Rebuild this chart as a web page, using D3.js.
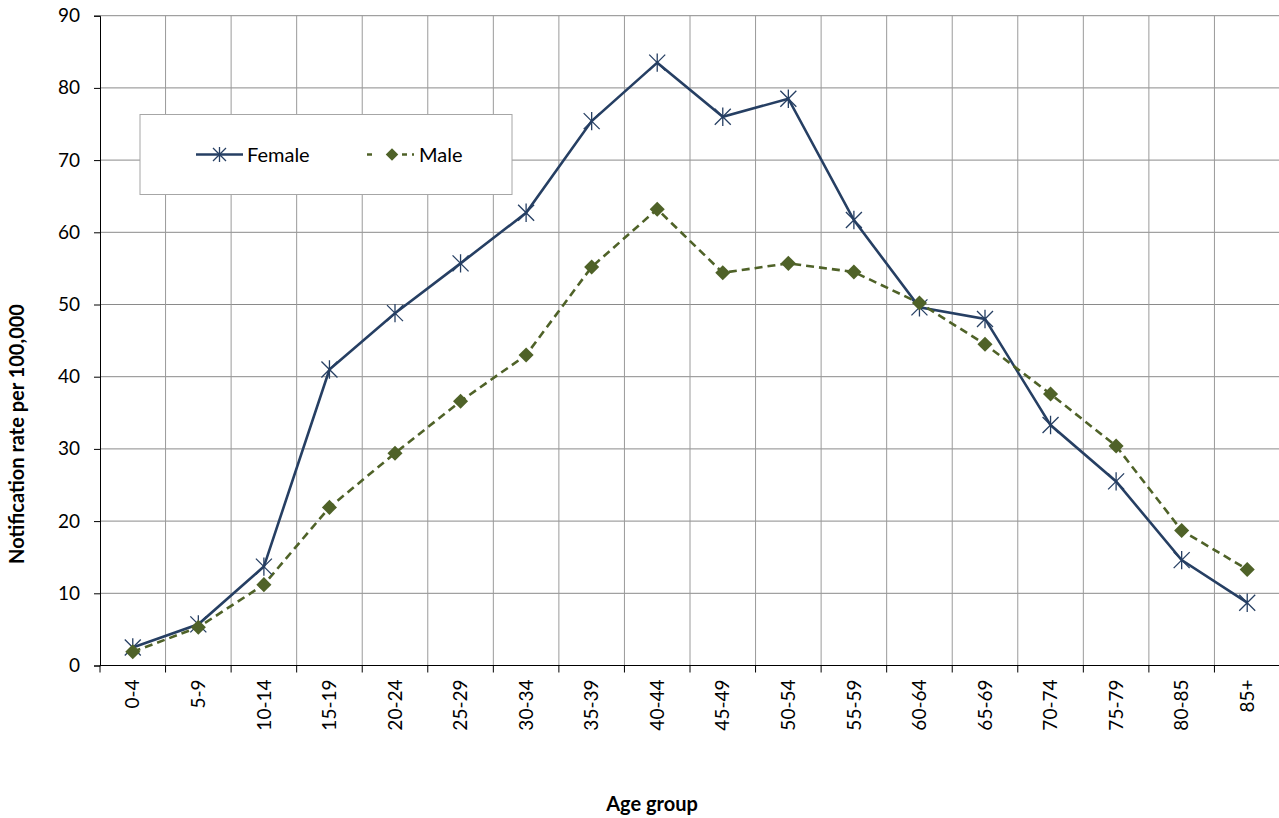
<!DOCTYPE html>
<html>
<head>
<meta charset="utf-8">
<script src="https://cdn.jsdelivr.net/npm/d3@7"></script>
<style>
  body { margin: 0; background: #fff; }
  text { font-family: Lato, "Open Sans", sans-serif; fill: #000; }
</style>
</head>
<body>
<div id="holder"></div>
<script>
// data
var ageGroups = ["0-4", "5-9", "10-14", "15-19", "20-24", "25-29", "30-34", "35-39", "40-44",
                 "45-49", "50-54", "55-59", "60-64", "65-69", "70-74", "75-79", "80-85", "85+"];
var female = [2.5, 5.7, 13.7, 41.0, 48.8, 55.7, 62.7, 75.4, 83.5, 76.0, 78.5, 61.7, 49.6, 48.0, 33.3, 25.5, 14.6, 8.7];
var male = [1.9, 5.3, 11.2, 21.9, 29.4, 36.6, 43.0, 55.2, 63.2, 54.4, 55.7, 54.5, 50.2, 44.5, 37.6, 30.4, 18.7, 13.3];
var yTicks = [0, 10, 20, 30, 40, 50, 60, 70, 80, 90];

var femaleColor = "#263f63",
    maleColor = "#4f6228";

// svg size and plot box
var width = 1279, height = 818;
var plot = {left: 100, right: 1280, top: 15.7, bottom: 665.5};

var svg = d3.select("#holder")
            .append("svg")
            .attr("width", width)
            .attr("height", height);

var x = d3.scaleBand()
          .domain(ageGroups)
          .range([plot.left, plot.right]);

var y = d3.scaleLinear()
          .domain([0, 90])
          .range([plot.bottom, plot.top]);

// gridlines
var grid = svg.append("g");
grid.selectAll(".hgrid")
    .data(yTicks.slice(1))
    .enter()
    .append("line")
    .attr("x1", plot.left).attr("x2", plot.right)
    .attr("y1", d => y(d)).attr("y2", d => y(d))
    .attr("stroke", "#8a8a8a")
    .attr("stroke-width", 1);

grid.selectAll(".vgrid")
    .data(ageGroups.slice(1).concat(["end"]))
    .enter()
    .append("line")
    .attr("x1", (d, i) => plot.left + x.step() * (i + 1))
    .attr("x2", (d, i) => plot.left + x.step() * (i + 1))
    .attr("y1", plot.top).attr("y2", plot.bottom)
    .attr("stroke", "#9a9a9a")
    .attr("stroke-width", 1);

// y axis
var yAxis = svg.append("g")
    .attr("transform", "translate(" + plot.left + ",0)")
    .call(d3.axisLeft(y).tickValues(yTicks).tickSize(6).tickPadding(14));
yAxis.select(".domain").attr("stroke", "#000");
yAxis.selectAll(".tick line").attr("stroke", "#000");
yAxis.selectAll("text").attr("font-size", 19).attr("font-family", "Lato, sans-serif");

// x axis, ticks sit on band boundaries
var xAxis = svg.append("g")
    .attr("transform", "translate(0," + plot.bottom + ")")
    .call(d3.axisBottom(x).tickSize(0).tickPadding(0));
xAxis.select(".domain").attr("stroke", "#000").attr("d", "M" + plot.left + ",0H" + plot.right);
xAxis.selectAll("text")
     .attr("font-size", 19)
     .attr("font-family", "Lato, sans-serif")
     .attr("transform", "rotate(-90)")
     .attr("text-anchor", "end")
     .attr("dy", "0.35em")
     .attr("x", -14)
     .attr("y", 0);
svg.append("g").selectAll("line")
   .data(d3.range(ageGroups.length + 1))
   .enter()
   .append("line")
   .attr("x1", i => plot.left + x.step() * i)
   .attr("x2", i => plot.left + x.step() * i)
   .attr("y1", plot.bottom).attr("y2", plot.bottom + 7)
   .attr("stroke", "#000");

// axis titles
svg.append("text")
   .attr("transform", "translate(17,434) rotate(-90)")
   .attr("text-anchor", "middle")
   .attr("dy", "0.35em")
   .attr("font-size", 20)
   .attr("font-weight", "bold")
   .text("Notification rate per 100,000");

svg.append("text")
   .attr("x", 652)
   .attr("y", 811)
   .attr("text-anchor", "middle")
   .attr("font-size", 20)
   .attr("font-weight", "bold")
   .text("Age group");

var cx = d => x(d) + x.bandwidth() / 2;

// lines
var seriesLine = d3.line().x((d, i) => cx(ageGroups[i])).y(d => y(d));
svg.append("path")
   .datum(female)
   .attr("d", seriesLine)
   .attr("fill", "none")
   .attr("stroke", femaleColor)
   .attr("stroke-width", 2.6);

svg.append("path")
   .datum(male)
   .attr("d", seriesLine)
   .attr("fill", "none")
   .attr("stroke", maleColor)
   .attr("stroke-width", 2.6)
   .attr("stroke-dasharray", "8,5");

// markers
function starPath(s) {
  return "M" + (-s) + "," + (-s) + "L" + s + "," + s +
         "M" + (-s) + "," + s + "L" + s + "," + (-s) +
         "M0," + (-s * 1.15) + "L0," + (s * 1.15);
}
svg.append("g").selectAll("path")
   .data(female)
   .enter()
   .append("path")
   .attr("transform", (d, i) => "translate(" + cx(ageGroups[i]) + "," + y(d) + ")")
   .attr("d", starPath(8))
   .attr("fill", "none")
   .attr("stroke", femaleColor)
   .attr("stroke-width", 1.3);

var diamond = d3.symbol().type(d3.symbolDiamond2).size(145);
svg.append("g").selectAll("path")
   .data(male)
   .enter()
   .append("path")
   .attr("transform", (d, i) => "translate(" + cx(ageGroups[i]) + "," + y(d) + ")")
   .attr("d", diamond)
   .attr("fill", maleColor);

// legend
var legend = svg.append("g");
legend.append("rect")
      .attr("x", 140).attr("y", 114.5)
      .attr("width", 372).attr("height", 80)
      .attr("fill", "#fff")
      .attr("stroke", "#a6a6a6");

legend.append("line")
      .attr("x1", 196).attr("x2", 243).attr("y1", 154.5).attr("y2", 154.5)
      .attr("stroke", femaleColor).attr("stroke-width", 2.6);
legend.append("path")
      .attr("transform", "translate(219.5,154.5)")
      .attr("d", starPath(6.5))
      .attr("fill", "none").attr("stroke", femaleColor).attr("stroke-width", 1.3);
legend.append("text")
      .attr("x", 247).attr("y", 154.5).attr("dy", "0.35em")
      .attr("font-size", 20)
      .text("Female");

legend.append("line")
      .attr("x1", 367).attr("x2", 414).attr("y1", 154.5).attr("y2", 154.5)
      .attr("stroke", maleColor).attr("stroke-width", 2.6)
      .attr("stroke-dasharray", "5,7,0,23,5");
legend.append("path")
      .attr("transform", "translate(392,154.5)")
      .attr("d", d3.symbol().type(d3.symbolDiamond2).size(100))
      .attr("fill", maleColor);
legend.append("text")
      .attr("x", 419).attr("y", 154.5).attr("dy", "0.35em")
      .attr("font-size", 20)
      .text("Male");
</script>
</body>
</html>
